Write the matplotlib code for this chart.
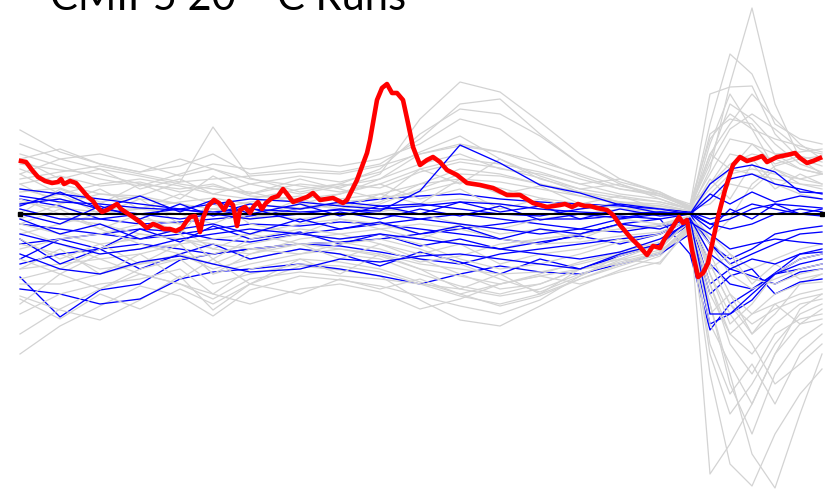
import matplotlib
matplotlib.use("Agg")
import matplotlib.pyplot as plt

# Sample positions (time index) shared by the ensemble members
t = [0, 40, 80, 120, 160, 193, 230, 280, 320, 360, 400, 440, 480, 520,
     560, 600, 640, 670, 690, 710, 732, 755, 780, 802]

# Other model runs (grey)
gray_runs = [
    [0.84, 0.62, 0.50, 0.42, 0.55, 0.45, 0.30, 0.38, 0.32, 0.42, 0.62, 0.78, 0.55, 0.38, 0.25, 0.18, 0.12, 0.05, 0.55, 1.10, 0.95, 0.70, 0.50, 0.42],
    [0.30, 0.38, 0.28, 0.32, 0.22, 0.28, 0.20, 0.30, 0.26, 0.40, 0.95, 1.32, 1.22, 0.92, 0.60, 0.35, 0.22, 0.06, -0.25, -0.05, 0.30, 0.48, 0.55, 0.58],
    [0.22, 0.26, 0.12, 0.18, 0.32, 0.87, 0.36, 0.22, 0.30, 0.26, 0.42, 0.52, 0.46, 0.36, 0.22, 0.12, 0.06, 0.02, 0.70, 1.20, 0.85, 0.45, 0.30, 0.28],
    [-1.40, -1.12, -0.92, -0.72, -0.82, -1.02, -0.76, -0.62, -0.66, -0.72, -0.82, -0.92, -1.00, -0.86, -0.62, -0.46, -0.36, -0.18, -0.90, -1.70, -2.20, -1.60, -1.25, -1.10],
    [-0.82, -0.96, -1.06, -0.86, -0.62, -0.96, -0.70, -0.52, -0.56, -0.62, -0.86, -1.06, -1.12, -0.92, -0.72, -0.56, -0.42, -0.14, -1.60, -2.50, -2.72, -2.20, -1.80, -1.55],
    [0.12, 0.06, 0.02, 0.06, 0.12, 0.16, 0.10, 0.06, 0.12, 0.16, 0.22, 0.32, 0.26, 0.16, 0.10, 0.06, 0.04, 0.02, 0.45, 1.30, 2.06, 1.10, 0.55, 0.40],
    [0.50, 0.44, 0.40, 0.30, 0.25, 0.30, 0.18, 0.15, 0.20, 0.35, 0.60, 0.70, 0.62, 0.48, 0.35, 0.25, 0.20, 0.08, 1.20, 1.27, 1.28, 0.80, 0.55, 0.48],
    [-0.10, -0.20, -0.30, -0.25, -0.15, -0.35, -0.40, -0.25, -0.20, -0.30, -0.45, -0.60, -0.75, -0.70, -0.55, -0.40, -0.30, -0.10, -2.60, -2.30, -1.90, -1.40, -0.95, -0.80],
    [-0.30, -0.40, -0.55, -0.50, -0.40, -0.55, -0.45, -0.35, -0.40, -0.45, -0.60, -0.72, -0.80, -0.70, -0.55, -0.45, -0.30, -0.08, -0.90, -1.60, -2.40, -2.74, -2.00, -1.40],
    [0.40, 0.55, 0.60, 0.50, 0.38, 0.45, 0.35, 0.28, 0.22, 0.30, 0.45, 0.55, 0.50, 0.42, 0.30, 0.20, 0.15, 0.04, 0.80, 0.95, 0.90, 0.60, 0.45, 0.40],
    [0.05, -0.05, -0.10, -0.20, -0.25, -0.35, -0.20, -0.10, -0.05, -0.10, -0.20, -0.30, -0.35, -0.25, -0.20, -0.15, -0.10, -0.02, -0.50, -0.90, -1.20, -1.00, -0.70, -0.60],
    [-0.55, -0.50, -0.45, -0.40, -0.30, -0.60, -0.50, -0.40, -0.35, -0.42, -0.55, -0.62, -0.70, -0.60, -0.48, -0.38, -0.28, -0.10, -1.10, -1.50, -1.90, -1.40, -1.10, -0.95],
    [0.60, 0.48, 0.35, 0.28, 0.40, 0.50, 0.45, 0.52, 0.48, 0.55, 0.70, 0.95, 0.85, 0.55, 0.38, 0.25, 0.18, 0.06, 0.40, 0.75, 0.70, 0.60, 0.62, 0.65],
    [-0.20, -0.10, 0.00, 0.05, 0.00, -0.10, 0.05, 0.00, 0.05, 0.02, 0.10, 0.15, 0.10, 0.05, 0.00, -0.05, -0.10, -0.04, -0.20, -0.40, -0.55, -0.45, -0.35, -0.30],
    [-1.00, -0.80, -0.70, -0.65, -0.55, -0.80, -0.90, -0.75, -0.70, -0.78, -0.95, -0.85, -0.70, -0.62, -0.55, -0.50, -0.40, -0.12, -0.70, -1.20, -1.40, -1.10, -0.90, -0.85],
    [0.25, 0.15, 0.05, -0.05, -0.10, 0.00, -0.05, 0.05, 0.10, 0.05, 0.00, -0.10, -0.15, -0.05, 0.00, 0.05, 0.02, 0.00, 0.30, 0.60, 0.55, 0.30, 0.20, 0.15],
    [-0.45, -0.60, -0.75, -0.55, -0.45, -0.40, -0.30, -0.20, -0.25, -0.20, -0.30, -0.45, -0.55, -0.50, -0.40, -0.28, -0.20, -0.06, -0.40, -0.80, -1.00, -0.90, -0.80, -0.75],
    [0.10, 0.20, 0.30, 0.35, 0.28, 0.20, 0.15, 0.25, 0.30, 0.45, 0.80, 1.05, 1.00, 0.78, 0.50, 0.32, 0.22, 0.08, 0.30, 0.50, 0.60, 0.55, 0.45, 0.40],
    [-0.65, -0.55, -0.35, -0.20, -0.25, -0.30, -0.35, -0.40, -0.30, -0.25, -0.35, -0.50, -0.65, -0.78, -0.62, -0.42, -0.30, -0.05, -0.60, -1.00, -1.30, -1.70, -1.50, -1.30],
    [0.45, 0.30, 0.20, 0.15, 0.10, 0.05, 0.00, -0.05, 0.00, 0.10, 0.25, 0.40, 0.38, 0.30, 0.18, 0.10, 0.08, 0.03, 0.20, 0.40, 0.45, 0.40, 0.35, 0.30],
    [-0.15, -0.30, -0.45, -0.60, -0.70, -0.80, -0.55, -0.45, -0.48, -0.55, -0.68, -0.80, -0.92, -0.82, -0.65, -0.50, -0.38, -0.10, -1.40, -2.00, -1.70, -1.30, -1.00, -0.90],
    [0.70, 0.55, 0.45, 0.38, 0.30, 0.25, 0.22, 0.10, 0.05, 0.12, 0.30, 0.45, 0.40, 0.30, 0.22, 0.16, 0.12, 0.05, 0.60, 0.90, 1.20, 0.95, 0.70, 0.55],
    [-0.35, -0.25, -0.20, -0.10, -0.20, -0.45, -0.25, -0.15, -0.20, -0.15, -0.10, -0.15, -0.25, -0.30, -0.28, -0.22, -0.18, -0.06, -0.30, -0.60, -0.75, -0.65, -0.55, -0.50],
    [0.15, 0.00, -0.15, -0.30, -0.40, -0.50, -0.35, -0.30, -0.28, -0.35, -0.48, -0.42, -0.30, -0.25, -0.20, -0.15, -0.12, -0.04, -0.25, -0.50, -0.65, -0.70, -0.60, -0.55],
    [-1.20, -0.95, -0.75, -0.60, -0.70, -0.85, -0.65, -0.58, -0.62, -0.65, -0.70, -0.75, -0.82, -0.75, -0.60, -0.48, -0.38, -0.12, -0.50, -0.90, -1.10, -0.95, -0.85, -0.80],
    [0.35, 0.42, 0.48, 0.40, 0.32, 0.35, 0.38, 0.42, 0.40, 0.48, 0.60, 0.68, 0.62, 0.52, 0.40, 0.28, 0.20, 0.10, 0.75, 1.00, 0.85, 0.75, 0.68, 0.62],
    [-0.05, 0.10, 0.20, 0.18, 0.10, 0.05, 0.12, 0.18, 0.15, 0.20, 0.30, 0.35, 0.32, 0.25, 0.18, 0.12, 0.08, 0.03, 0.25, 0.45, 0.40, 0.35, 0.30, 0.25],
    [-0.70, -0.70, -0.60, -0.50, -0.45, -0.70, -0.60, -0.50, -0.52, -0.58, -0.70, -0.82, -0.90, -0.80, -0.65, -0.52, -0.40, -0.10, -0.70, -1.30, -1.60, -1.20, -1.05, -1.00],
    [0.55, 0.65, 0.50, 0.42, 0.48, 0.60, 0.40, 0.45, 0.42, 0.50, 0.75, 1.10, 1.15, 0.80, 0.50, 0.30, 0.18, 0.07, 0.50, 0.85, 1.00, 0.85, 0.65, 0.60],
    [-0.90, -0.60, -0.40, -0.35, -0.30, -0.25, -0.20, -0.30, -0.35, -0.40, -0.50, -0.55, -0.60, -0.58, -0.50, -0.40, -0.32, -0.08, -0.80, -1.20, -1.00, -0.80, -0.70, -0.68],
    [0.30, 0.10, 0.25, 0.05, 0.20, 0.10, -0.05, 0.15, 0.05, 0.20, 0.10, 0.35, 0.20, 0.28, 0.10, 0.18, 0.05, 0.00, 0.35, 0.15, 0.50, 0.25, 0.40, 0.30],
    [-0.55, -0.35, -0.60, -0.40, -0.65, -0.45, -0.70, -0.45, -0.60, -0.40, -0.55, -0.75, -0.60, -0.80, -0.55, -0.45, -0.50, -0.12, -1.00, -0.80, -1.20, -0.90, -1.10, -1.05],
    [0.00, 0.25, 0.10, 0.30, 0.15, 0.38, 0.20, 0.35, 0.25, 0.15, 0.45, 0.30, 0.55, 0.35, 0.25, 0.30, 0.15, 0.05, 0.10, 0.30, 0.25, 0.45, 0.35, 0.40],
    [-0.25, -0.45, -0.30, -0.50, -0.30, -0.60, -0.40, -0.30, -0.45, -0.30, -0.40, -0.30, -0.50, -0.40, -0.35, -0.25, -0.35, -0.06, -0.55, -0.40, -0.70, -0.50, -0.65, -0.60],
    [0.55, 0.35, 0.45, 0.25, 0.35, 0.20, 0.30, 0.20, 0.28, 0.35, 0.50, 0.60, 0.45, 0.40, 0.30, 0.35, 0.20, 0.05, 0.60, 0.45, 0.70, 0.50, 0.58, 0.52],
    [-0.85, -1.05, -0.80, -0.95, -0.75, -0.90, -0.70, -0.80, -0.65, -0.75, -0.65, -0.80, -0.70, -0.62, -0.70, -0.58, -0.48, -0.15, -1.30, -1.80, -1.50, -1.90, -1.40, -1.20],
    [0.40, 0.20, 0.00, 0.15, -0.10, 0.05, -0.05, 0.10, 0.20, 0.30, 0.15, 0.25, 0.05, 0.15, 0.05, 0.12, 0.10, 0.03, 0.90, 1.60, 1.40, 0.90, 0.75, 0.70],
    [-0.10, 0.05, -0.15, 0.00, -0.20, 0.15, -0.10, -0.20, -0.05, -0.15, -0.25, -0.10, -0.20, -0.15, -0.25, -0.10, -0.15, -0.02, -0.60, -1.10, -0.90, -0.60, -0.45, -0.40],
]

# Highlighted subset of runs (blue)
blue_runs = [
    [0.18, 0.12, 0.10, 0.06, 0.04, 0.02, 0.05, 0.02, 0.04, 0.03, 0.23, 0.69, 0.51, 0.29, 0.21, 0.09, 0.01, 0.00, -0.10, -0.05, 0.05, 0.10, 0.08, 0.06],
    [-0.63, -1.03, -0.76, -0.70, -0.46, -0.40, -0.35, -0.30, -0.28, -0.25, -0.20, -0.15, -0.10, -0.05, -0.05, -0.02, -0.05, 0.00, -0.30, -0.45, -0.35, -0.20, -0.15, -0.12],
    [-0.40, -0.55, -0.60, -0.48, -0.42, -0.50, -0.58, -0.55, -0.45, -0.48, -0.42, -0.40, -0.45, -0.50, -0.55, -0.40, -0.30, -0.05, -1.00, -1.00, -0.80, -0.60, -0.50, -0.45],
    [-0.10, -0.15, -0.20, -0.25, -0.20, -0.15, -0.10, -0.12, -0.08, -0.10, -0.15, -0.20, -0.25, -0.30, -0.20, -0.10, -0.05, -0.40, -1.16, -0.90, -0.76, -0.59, -0.40, -0.35],
    [0.25, 0.20, 0.15, 0.10, 0.05, 0.10, 0.15, 0.12, 0.08, 0.05, 0.08, 0.12, 0.10, 0.05, 0.02, 0.00, 0.02, 0.00, 0.30, 0.45, 0.49, 0.42, 0.22, 0.21],
    [-0.75, -0.80, -0.90, -0.85, -0.65, -0.58, -0.55, -0.50, -0.55, -0.62, -0.70, -0.60, -0.52, -0.58, -0.60, -0.50, -0.40, -0.20, -1.10, -1.00, -0.86, -0.60, -0.45, -0.40],
    [0.05, -0.05, -0.05, 0.00, 0.05, 0.00, -0.05, 0.00, 0.05, 0.00, -0.05, -0.10, -0.15, -0.20, -0.15, -0.05, 0.00, 0.02, -0.10, -0.15, -0.10, 0.00, 0.05, 0.02],
    [-0.30, -0.25, -0.20, -0.15, -0.18, -0.25, -0.28, -0.20, -0.15, -0.10, -0.05, 0.00, -0.05, -0.10, -0.15, -0.18, -0.12, -0.05, -0.30, -0.50, -0.40, -0.30, -0.20, -0.18],
    [0.10, 0.15, 0.05, 0.00, -0.05, 0.00, 0.10, 0.05, 0.12, 0.08, 0.10, 0.05, 0.00, -0.02, 0.05, 0.10, 0.05, 0.00, 0.15, 0.35, 0.40, 0.30, 0.25, 0.20],
    [-0.50, -0.40, -0.35, -0.30, -0.35, -0.40, -0.35, -0.30, -0.32, -0.38, -0.45, -0.50, -0.40, -0.35, -0.30, -0.25, -0.20, -0.05, -0.50, -0.70, -0.75, -0.60, -0.55, -0.50],
    [-0.20, -0.30, -0.40, -0.35, -0.25, -0.20, -0.15, -0.20, -0.25, -0.20, -0.25, -0.30, -0.35, -0.40, -0.45, -0.38, -0.25, -0.08, -0.20, -0.35, -0.30, -0.25, -0.28, -0.30],
    [0.15, 0.08, -0.05, -0.10, -0.08, -0.05, -0.02, 0.05, 0.10, 0.15, 0.18, 0.20, 0.15, 0.12, 0.10, 0.08, 0.05, 0.02, -0.05, 0.00, 0.10, 0.05, 0.00, -0.02],
    [-0.05, -0.20, -0.10, -0.25, -0.15, -0.10, -0.20, -0.05, -0.15, -0.08, -0.20, -0.12, -0.25, -0.15, -0.20, -0.10, -0.15, -0.04, -0.40, -0.55, -0.45, -0.50, -0.40, -0.38],
    [-0.45, -0.25, -0.35, -0.15, -0.28, -0.12, -0.25, -0.18, -0.30, -0.20, -0.32, -0.25, -0.35, -0.28, -0.22, -0.30, -0.20, -0.06, -0.70, -0.55, -0.62, -0.70, -0.58, -0.55],
    [0.08, 0.22, 0.05, 0.18, 0.02, 0.14, 0.00, 0.10, -0.02, 0.08, 0.00, 0.12, 0.02, 0.08, -0.05, 0.05, -0.02, 0.00, 0.20, 0.10, 0.22, 0.12, 0.18, 0.15],
    [-0.25, -0.50, -0.35, -0.55, -0.40, -0.30, -0.45, -0.35, -0.40, -0.52, -0.38, -0.48, -0.60, -0.45, -0.55, -0.42, -0.30, -0.10, -0.80, -0.62, -0.55, -0.80, -0.68, -0.65],
    [0.00, -0.10, 0.08, -0.05, 0.10, -0.02, 0.06, -0.08, 0.02, -0.05, 0.05, -0.02, 0.08, -0.06, 0.00, -0.04, 0.02, 0.00, -0.15, 0.05, -0.05, 0.10, 0.00, 0.05],
]

# Observed record (red)
red_t = [1, 6, 12, 18, 25, 32, 38, 41, 44, 50, 56, 62, 68, 73, 77, 82, 87, 92, 97,
         101, 107, 113, 120, 127, 133, 138, 144, 150, 156, 162, 166, 170, 175, 178,
         180, 183, 188, 194, 199, 204, 209, 213, 217, 220, 225, 230, 234, 238, 242,
         246, 252, 258, 263, 267, 273, 287, 293, 300, 313, 323, 327, 337, 347, 350,
         357, 362, 367, 372, 377, 383, 388, 393, 400, 407, 413, 420, 427, 437, 447,
         460, 473, 487, 500, 513, 527, 540, 545, 552, 558, 565, 570, 577, 587, 593,
         600, 610, 620, 627, 633, 640, 645, 652, 659, 663, 667, 672, 678, 683, 688,
         693, 698, 705, 713, 720, 727, 737, 742, 747, 757, 767, 775, 780, 787, 793, 800]
red_v = [0.53, 0.52, 0.44, 0.37, 0.33, 0.31, 0.32, 0.35, 0.30, 0.33, 0.31, 0.24, 0.17,
         0.13, 0.07, 0.02, 0.04, 0.07, 0.10, 0.05, 0.01, -0.03, -0.08, -0.14, -0.10,
         -0.12, -0.15, -0.15, -0.17, -0.14, -0.08, -0.03, -0.02, -0.11, -0.18, -0.04,
         0.08, 0.14, 0.11, 0.04, 0.13, 0.09, -0.12, 0.04, 0.07, 0.01, 0.08, 0.12, 0.05,
         0.11, 0.16, 0.18, 0.25, 0.20, 0.12, 0.17, 0.21, 0.14, 0.16, 0.11, 0.14, 0.34,
         0.61, 0.74, 1.14, 1.26, 1.30, 1.21, 1.21, 1.14, 0.91, 0.67, 0.49, 0.54, 0.57,
         0.52, 0.44, 0.39, 0.31, 0.29, 0.26, 0.19, 0.19, 0.11, 0.07, 0.09, 0.10, 0.07,
         0.10, 0.08, 0.08, 0.06, 0.04, -0.01, -0.11, -0.23, -0.33, -0.41, -0.32, -0.34,
         -0.24, -0.14, -0.03, -0.09, -0.06, -0.36, -0.63, -0.59, -0.49, -0.26, -0.03,
         0.24, 0.49, 0.57, 0.53, 0.56, 0.58, 0.52, 0.57, 0.59, 0.61, 0.56, 0.51, 0.53, 0.56]

fig = plt.figure(figsize=(8.25, 4.93), dpi=100)
ax = fig.add_axes([0, 0, 1, 1])
ax.set_xlim(-20, 805)
ax.set_ylim(-2.79, 2.14)
ax.axis("off")

# Interleave grey and blue runs so they overlap as in an ensemble plot
for i in range(max(len(gray_runs), len(blue_runs))):
    if i < len(gray_runs):
        ax.plot(t, gray_runs[i], color="#d3d3d3", lw=0.9, zorder=1)
    if i < len(blue_runs) and i % 2 == 1:
        ax.plot(t, blue_runs[i], color="#0000ff", lw=0.95, zorder=1)
for i in range(0, len(blue_runs), 2):
    ax.plot(t, blue_runs[i], color="#0000ff", lw=0.95, zorder=1)

ax.plot([t[0], t[-1]], [0, 0], color="black", lw=1.5, marker="s", ms=2.5, zorder=3)
ax.plot(red_t, red_v, color="#ff0000", lw=3.3, solid_joinstyle="round", zorder=4)

# Title (the superscript 'th' sits above the top edge)
fig.text(50 / 825, 1 - 10 / 493, "CMIP5 20", va="baseline", ha="left",
         family="Lato", size=30, color="black")
fig.text(240 / 825, 1 + 8 / 493, "th", va="baseline", ha="left",
         family="Lato", size=16, color="black")
fig.text(277 / 825, 1 - 10 / 493, "C Runs", va="baseline", ha="left",
         family="Lato", size=30, color="black")

fig.savefig("out.png", dpi=100)
